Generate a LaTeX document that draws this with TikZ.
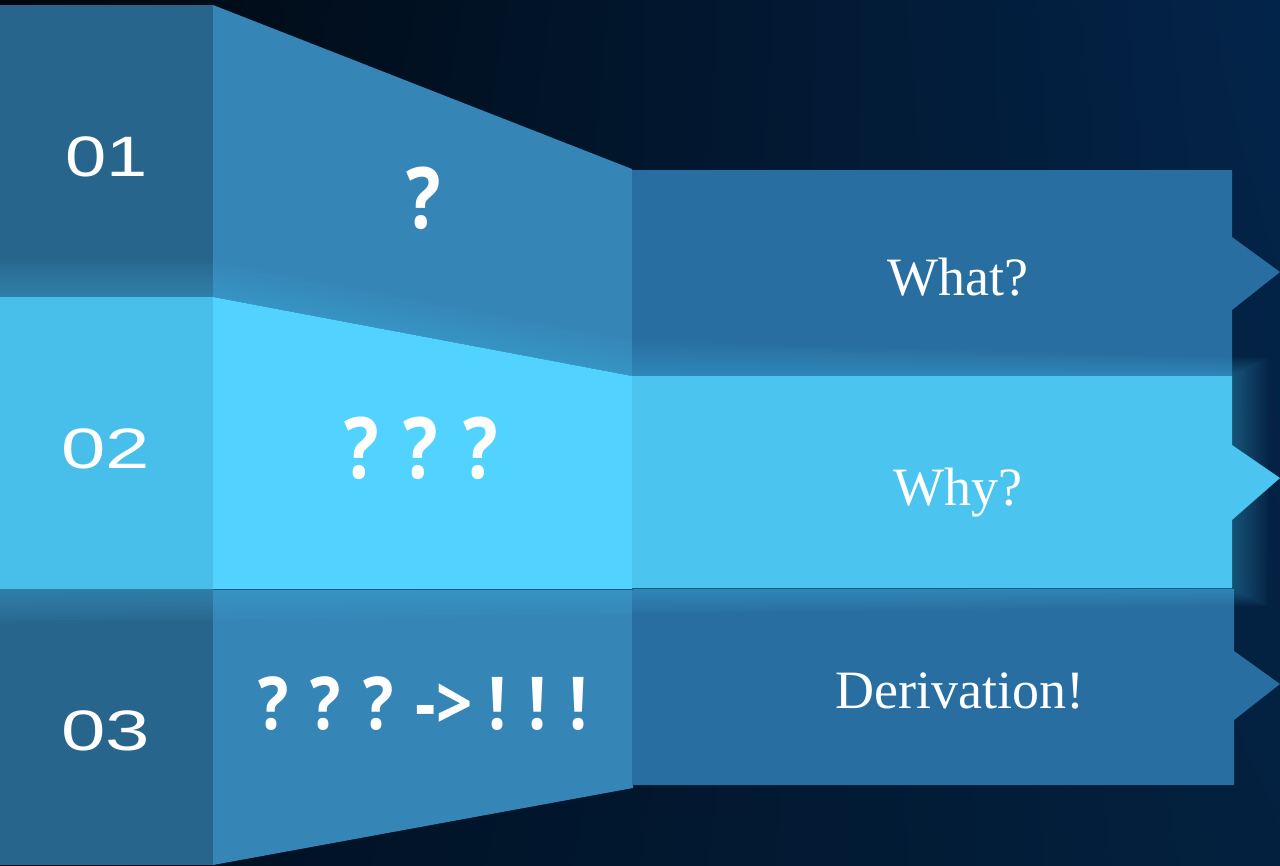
\documentclass[tikz,border=0pt]{standalone}
\usepackage{fontspec}
\usetikzlibrary{shadings}
\setmainfont{Liberation Serif}
\newfontfamily\numfont{Liberation Sans}
\newfontfamily\qfont{Open Sans}
\definecolor{bgA}{HTML}{00070E}
\definecolor{bgB}{HTML}{03244A}
\definecolor{bgC}{HTML}{000E1E}
\definecolor{bgD}{HTML}{03213F}
\definecolor{leftDark}{HTML}{27658C}
\definecolor{trapDark}{HTML}{3685B7}
\definecolor{rightDark}{HTML}{286EA0}
\definecolor{leftLight}{HTML}{48BEEA}
\definecolor{trapLight}{HTML}{52D2FE}
\definecolor{rightLight}{HTML}{4BC4F0}
\definecolor{glowc}{HTML}{4CC8F5}
\definecolor{seam}{HTML}{1B5A85}
\begin{document}
\begin{tikzpicture}[x=1pt,y=-1pt,
  numtxt/.style={text=white, font=\numfont\fontsize{57}{60}\selectfont, inner sep=0pt},
  qtxt/.style={text=white, font=\qfont\bfseries\fontsize{85}{90}\selectfont, inner sep=0pt},
  qtxtsmall/.style={text=white, font=\qfont\bfseries\fontsize{73}{78}\selectfont, inner sep=0pt},
  rtxt/.style={text=white, font=\fontsize{54}{60}\selectfont, inner sep=0pt, anchor=base}]
\useasboundingbox (0,0) rectangle (1280,865);
% background
\shade[upper left=bgA, upper right=bgB, lower left=bgC, lower right=bgD] (0,0) rectangle (1280,865);
% band 1
\fill[leftDark] (0,5) rectangle (213,297);
\fill[trapDark] (213,5) -- (632,169) -- (632,376) -- (213,297) -- cycle;
\fill[rightDark] (632,170) -- (1232,170) -- (1232,237) -- (1280,272) -- (1232,310) -- (1232,376) -- (632,376) -- cycle;
% band 3
\fill[leftDark] (0,589) rectangle (213,865);
\fill[trapDark] (213,589) -- (633,589) -- (633,788) -- (213,865) -- cycle;
\fill[rightDark] (632,589) -- (1234,589) -- (1234,651) -- (1280,684) -- (1234,720) -- (1234,785) -- (632,785) -- cycle;
% glow of band 2
\foreach \d in {3,6,...,36} {
  \fill[glowc, opacity=0.03] (-5,297-\d) -- (213,297-\d) -- (632,376-\d) -- (1232+\d,376-0.5*\d) -- (1232+\d,588+0.5*\d) -- (-5,588+\d) -- cycle;
}
% band 2
\fill[leftLight] (0,297) rectangle (213,589);
\fill[trapLight] (213,297) -- (632,376) -- (632,589) -- (213,589) -- cycle;
\fill[rightLight] (632,376) -- (1232,376) -- (1232,445) -- (1280,478) -- (1232,520) -- (1232,588) -- (632,588) -- cycle;
\draw[seam, line width=1.2pt] (213,589.5) -- (633,589.5);
% numbers
\node[numtxt] (n1) at (107,157) {\scalebox{1.3}[1]{01}};
\node[numtxt] (n2) at (106,449) {\scalebox{1.4}[1]{02}};
\node[numtxt] (n3) at (106,731) {\scalebox{1.4}[1]{03}};
% question marks
\node[qtxt] (q1) at (424,198) {\scalebox{0.85}[1]{?}};
\node[qtxt] (q2) at (421,448) {\scalebox{0.85}[1]{? ? ?}};
\node[qtxtsmall] (q3) at (423,704) {\scalebox{0.87}[1]{? ? ? -> ! ! !}};
% right labels
\node[rtxt] (t1) at (958,295) {What?};
\node[rtxt] (t2) at (958,505) {Why?};
\node[rtxt] (t3) at (960,708) {Derivation!};
\end{tikzpicture}
\end{document}
